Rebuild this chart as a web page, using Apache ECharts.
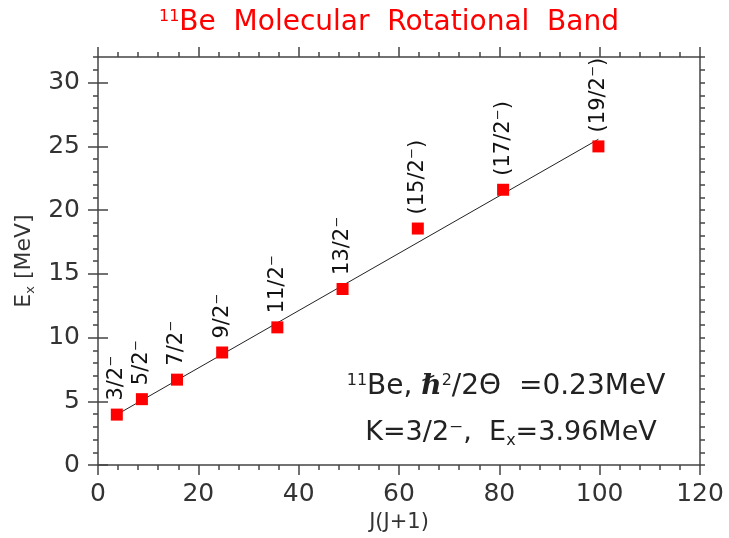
<!DOCTYPE html>
<html>
<head>
<meta charset="utf-8">
<style>
  html, body { margin: 0; padding: 0; background: #fff; }
  #chart { width: 729px; height: 538px; }
</style>
<script src="https://cdn.jsdelivr.net/npm/echarts@6/dist/echarts.min.js"></script>
</head>
<body>
<div id="chart"></div>
<script>
// Rotational band members of 11Be: spin labels, J(J+1) and excitation energy (MeV)
const spinLabels = ['3/2⁻', '5/2⁻', '7/2⁻', '9/2⁻', '11/2⁻', '13/2⁻', '(15/2⁻)', '(17/2⁻)', '(19/2⁻)'];
const jTimesJ1 = [3.75, 8.75, 15.75, 24.75, 35.75, 48.75, 63.75, 80.75, 99.75];
const exEnergy = [3.96, 5.17, 6.70, 8.83, 10.80, 13.81, 18.55, 21.59, 24.99];

// Band fit line end points
const fitX = [3.75, 99.75];
const fitY = [3.96, 25.55];

// Axis ticks
const xMajorTicks = [0, 20, 40, 60, 80, 100, 120];
const yMajorTicks = [0, 5, 10, 15, 20, 25, 30];

const FONT = 'DejaVu Sans';
const AXIS_COLOR = '#444444';
const TEXT_COLOR = '#333333';

const chart = echarts.init(document.getElementById('chart'));

const grid = { left: 98, right: 29, top: 57, bottom: 64 };

function xAxisDef(pos, showLabels) {
  return {
    type: 'value', position: pos, min: 0, max: 120, interval: 20,
    axisLine: { show: true, onZero: false, lineStyle: { color: AXIS_COLOR, width: 1.5 } },
    axisTick: { show: true, inside: false, length: 10, lineStyle: { color: AXIS_COLOR, width: 1.5 } },
    minorTick: { show: true, splitNumber: 5, length: 5, lineStyle: { color: AXIS_COLOR, width: 1.5 } },
    axisLabel: { show: showLabels, color: TEXT_COLOR, fontFamily: FONT, fontSize: 25, margin: 17,
      customValues: xMajorTicks },
    splitLine: { show: false },
    name: showLabels ? 'J(J+1)' : '',
    nameLocation: 'middle', nameGap: 46,
    nameTextStyle: { color: TEXT_COLOR, fontFamily: FONT, fontSize: 21 }
  };
}

function yMinorAxis(pos, showLabels) {
  return {
    type: 'value', position: pos, min: 0, max: 32, interval: 1,
    axisLine: { show: true, onZero: false, lineStyle: { color: AXIS_COLOR, width: 1.5 } },
    axisTick: { show: true, inside: false, length: 5, lineStyle: { color: AXIS_COLOR, width: 1.5 } },
    axisLabel: { show: showLabels, color: TEXT_COLOR, fontFamily: FONT, fontSize: 25, margin: 18,
      customValues: yMajorTicks },
    splitLine: { show: false },
    name: showLabels ? 'E{sub|x} [MeV]' : '',
    nameLocation: 'middle', nameGap: 58, nameRotate: 90,
    nameTextStyle: { color: TEXT_COLOR, fontFamily: FONT, fontSize: 22,
      rich: { sub: { fontFamily: FONT, fontSize: 13, color: TEXT_COLOR, verticalAlign: 'bottom', padding: [14, 0, 0, 0] } } }
  };
}

function yMajorAxis(pos) {
  return {
    type: 'value', position: pos, min: 0, max: 32,
    axisLine: { show: false },
    axisTick: { show: true, inside: false, length: 10, customValues: yMajorTicks,
      lineStyle: { color: AXIS_COLOR, width: 1.5 } },
    axisLabel: { show: false },
    splitLine: { show: false }
  };
}

const option = {
  backgroundColor: '#ffffff',
  animation: false,
  grid: grid,
  xAxis: [xAxisDef('bottom', true), xAxisDef('top', false)],
  yAxis: [yMinorAxis('left', true), yMajorAxis('left'), yMinorAxis('right', false), yMajorAxis('right')],
  series: [
    {
      type: 'line',
      xAxisIndex: 0, yAxisIndex: 0,
      data: fitX.map((x, i) => [x, fitY[i]]),
      showSymbol: false,
      symbol: 'none',
      lineStyle: { color: '#222', width: 1 },
      z: 2
    },
    {
      type: 'scatter',
      xAxisIndex: 0, yAxisIndex: 0,
      symbol: 'rect',
      symbolSize: 12,
      itemStyle: { color: '#ff0000', opacity: 1 },
      data: jTimesJ1.map((x, i) => [x, exEnergy[i]]),
      label: {
        show: true,
        position: 'top',
        distance: 8,
        rotate: 90,
        align: 'left',
        verticalAlign: 'middle',
        color: '#111',
        fontFamily: FONT,
        fontSize: 21,
        formatter: p => spinLabels[p.dataIndex]
      },
      z: 3
    }
  ],
  graphic: [
    {
      type: 'text', x: 389, y: 9,
      style: {
        text: '{sup|11}Be  Molecular  Rotational  Band',
        fill: '#ff0000', font: '28px "DejaVu Sans"', textAlign: 'center', textVerticalAlign: 'top',
        rich: { sup: { fill: '#ff0000', font: '16px "DejaVu Sans"', verticalAlign: 'top' } }
      }
    },
    {
      type: 'text', x: 506, y: 387,
      style: {
        text: '{sup|11}Be, {h|ℏ}{sup|2}/2Θ  =0.23MeV',
        fill: '#222', font: '28px "DejaVu Sans"', textAlign: 'center', textVerticalAlign: 'middle',
        rich: {
          sup: { fill: '#222', font: '16px "DejaVu Sans"', verticalAlign: 'top' },
          h: { fill: '#222', font: 'italic bold 28px "DejaVu Serif"' }
        }
      }
    },
    {
      type: 'text', x: 511, y: 433,
      style: {
        text: 'K=3/2⁻,  E{sub|x}=3.96MeV',
        fill: '#222', font: '27px "DejaVu Sans"', textAlign: 'center', textVerticalAlign: 'middle',
        rich: { sub: { fill: '#222', font: '16px "DejaVu Sans"', verticalAlign: 'bottom', padding: [16, 0, 0, 0] } }
      }
    }
  ]
};

chart.setOption(option);
</script>
</body>
</html>
